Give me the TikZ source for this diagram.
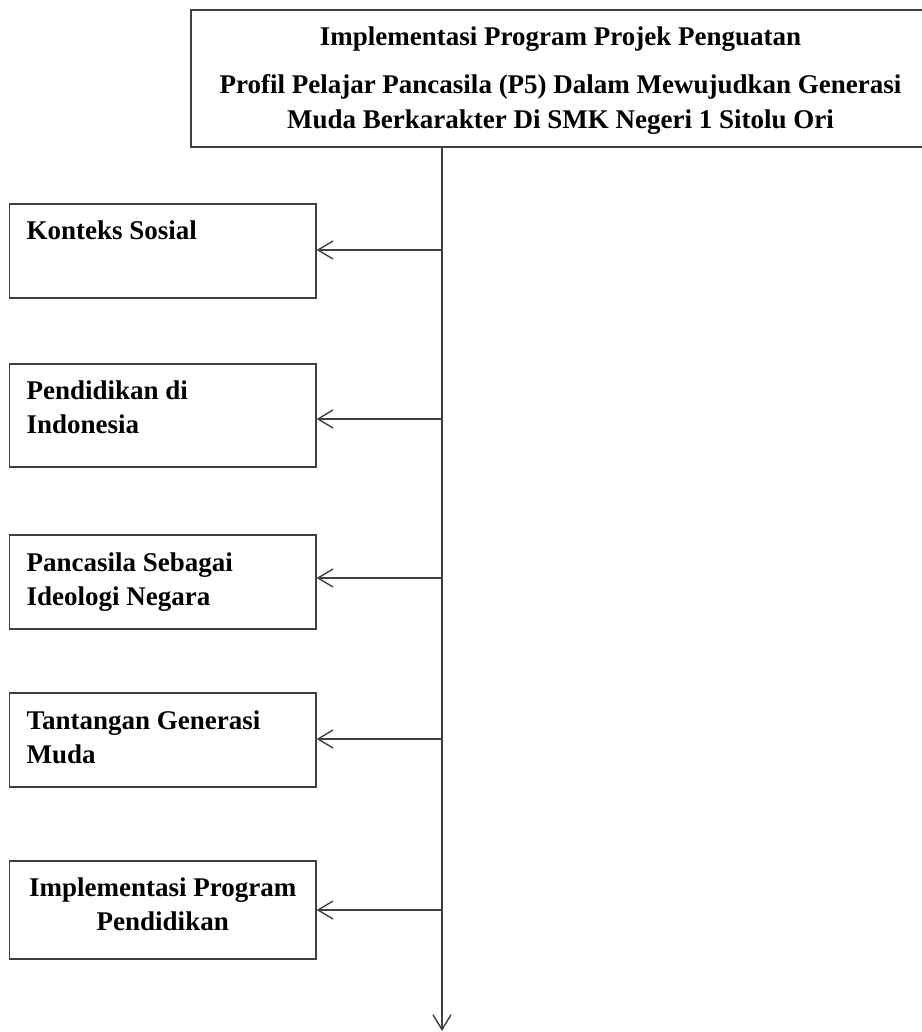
\documentclass[tikz,border=0pt]{standalone}
\usepackage{fontspec}
\setmainfont{Liberation Serif}
\usetikzlibrary{arrows.meta,calc}
\tikzset{
  frame/.style={draw=black!75, line width=1.3pt, rectangle, inner sep=0pt},
  smallbox/.style={frame, minimum width=306.5pt},
  lbl/.style={inner sep=0pt, font=\bfseries\fontsize{27}{34}\selectfont, align=left},
  lblc/.style={inner sep=0pt, font=\bfseries\fontsize{27}{34}\selectfont, align=center},
  conn/.style={draw=black!75, line width=1.3pt, -{Straight Barb[length=15pt,width=18pt,line width=1.4pt]}}
}
\begin{document}
\begin{tikzpicture}[x=1pt,y=-1pt]
\useasboundingbox (0,0) rectangle (921,1032);
% top box
\node[frame, minimum width=739pt, minimum height=137pt] (top) at (560.5,78.5) {};
\node[lblc, font=\bfseries\fontsize{27}{35}\selectfont, anchor=north] (ttop) at ([yshift=-17pt]top.north)
  {Implementasi Program Projek Penguatan\\[13pt]
   Profil Pelajar Pancasila (P5) Dalam Mewujudkan Generasi\\
   Muda Berkarakter Di SMK Negeri 1 Sitolu Ori};
% small boxes
\node[smallbox, minimum height=94pt]  (b1) at (162.75,251) {};
\node[smallbox, minimum height=103pt] (b2) at (162.75,415.5) {};
\node[smallbox, minimum height=94pt]  (b3) at (162.75,582) {};
\node[smallbox, minimum height=94pt]  (b4) at (162.75,740) {};
\node[smallbox, minimum height=98pt]  (b5) at (162.75,910) {};
\node[lbl, anchor=north west] (t1) at ([xshift=17.5pt,yshift=-17pt]b1.north west) {Konteks Sosial};
\node[lbl, anchor=north west] (t2) at ([xshift=17.5pt,yshift=-17pt]b2.north west) {Pendidikan di\\Indonesia};
\node[lbl, anchor=north west] (t3) at ([xshift=17.5pt,yshift=-18pt]b3.north west) {Pancasila Sebagai\\Ideologi Negara};
\node[lbl, anchor=north west] (t4) at ([xshift=17.5pt,yshift=-18pt]b4.north west) {Tantangan Generasi\\Muda};
\node[lblc, anchor=north] (t5) at ([yshift=-17pt]b5.north) {Implementasi Program\\Pendidikan};
% trunk
\coordinate (tend) at (442,1031);
\draw[conn] (top.south -| tend) -- (tend);
\foreach \i/\y in {1/250,2/419,3/578,4/739,5/910}{
  \coordinate (j\i) at (442,\y);
  \draw[conn] (j\i) -- (j\i -| b\i.east);
}
\end{tikzpicture}
\end{document}
